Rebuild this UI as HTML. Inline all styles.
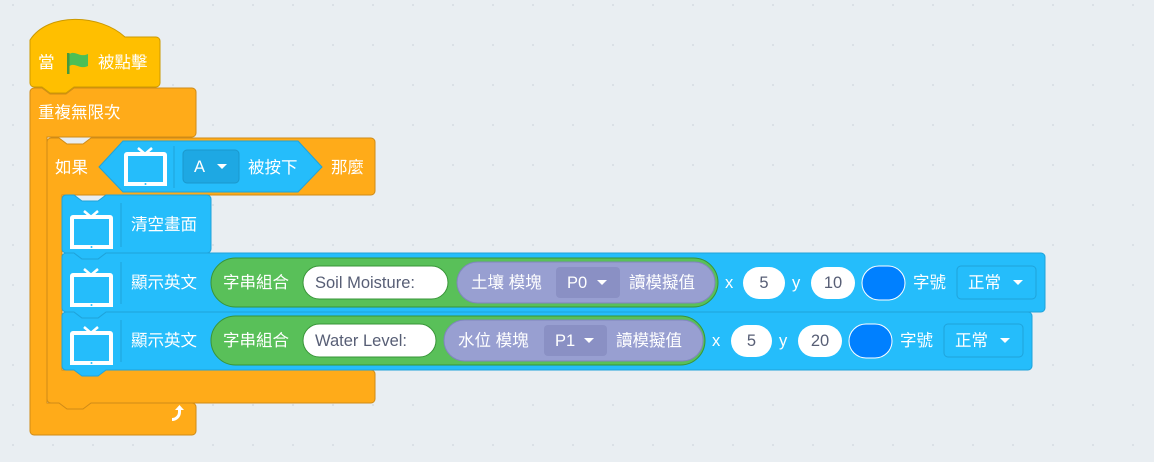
<!DOCTYPE html>
<html><head><meta charset="utf-8">
<style>
html,body{margin:0;padding:0;}
body{width:1154px;height:462px;overflow:hidden;background:#e9eef2;}
svg{display:block;}
text{font-family:"Liberation Sans","Noto Sans CJK TC",sans-serif;font-size:16.5px;fill:#fff;dominant-baseline:central;}
.d{fill:#575e75;}
</style></head><body>
<svg width="1154" height="462" viewBox="0 0 1154 462" xmlns="http://www.w3.org/2000/svg">
<defs>
<pattern id="dots" width="40" height="40" patternUnits="userSpaceOnUse" x="12" y="4">
<circle cx="1" cy="1" r="1" fill="#d6dce2"/></pattern>
<g id="tv">
<rect x="2" y="6" width="39" height="30" rx="1" fill="none" stroke="#fff" stroke-width="4"/>
<rect x="0" y="34" width="43" height="4" fill="#fff"/>
<path d="M14 0 L21 6 L28 0" fill="none" stroke="#fff" stroke-width="2.5"/>
<circle cx="21.5" cy="36" r="1" fill="#25bdfb"/>
</g>
</defs>
<rect width="1154" height="462" fill="url(#dots)"/>

<!-- forever block -->
<path d="M30 92 a4 4 0 0 1 4 -4 h8 l8 6 h16 l8 -6 h118 a4 4 0 0 1 4 4 v41 a4 4 0 0 1 -4 4 h-145 v266 h145 a4 4 0 0 1 4 4 v24 a4 4 0 0 1 -4 4 h-158 a4 4 0 0 1 -4 -4 z" fill="#ffab19" stroke="#cf8b17" stroke-width="1"/>
<text x="38" y="113">重複無限次</text>
<path d="M172 418 a6 6 0 0 0 6 -6 v-2 l-3 0 l4.5 -5 l4.5 5 l-3 0 v2 a9 9 0 0 1 -9 9 z" fill="#fff"/>
<!-- if block -->
<path d="M47 142 a4 4 0 0 1 4 -4 h8 l8 6 h16 l8 -6 h280 a4 4 0 0 1 4 4 v49 a4 4 0 0 1 -4 4 h-309 v175 h309 a4 4 0 0 1 4 4 v25 a4 4 0 0 1 -4 4 h-280 l-8 6 h-16 l-8 -6 h-8 a4 4 0 0 1 -4 -4 z" fill="#ffab19" stroke="#cf8b17" stroke-width="1"/>
<text x="55" y="168">如果</text>
<text x="331" y="168">那麼</text>
<path d="M99 167 L123 141 H298 L322 167 L298 192 H123 Z" fill="#25bdfb" stroke="#1fa3da" stroke-width="1"/>
<use href="#tv" x="124" y="148"/>
<line x1="174" y1="146" x2="174" y2="188" stroke="#1fa3da" stroke-width="1"/>
<rect x="183" y="150" width="56" height="33" rx="4" fill="#1ea8e3" stroke="#1b98cc"/>
<text x="194" y="167">A</text>
<path d="M217 164 h10 l-5 5 z" fill="#fff"/>
<text x="248" y="168">被按下</text>

<!-- hat block -->
<path d="M30 40 C48 12 100 14 125 37 h31 a4 4 0 0 1 4 4 v42 a4 4 0 0 1 -4 4 h-82 l-8 6 h-16 l-8 -6 h-8 a4 4 0 0 1 -4 -4 z" fill="#ffbf00" stroke="#cc9900" stroke-width="1"/>
<text x="38" y="63">當</text>
<rect x="67" y="53" width="2.5" height="21" fill="#45993d"/>
<path d="M69.5 54 C75 50 80 58 88 54 V66 C80 70 75 62 69.5 66 Z" fill="#4cbf56"/>
<text x="98" y="63">被點擊</text>

<!-- display block 2 -->
<path d="M62 316 a4 4 0 0 1 4 -4 h8 l8 6 h16 l8 -6 h922 a4 4 0 0 1 4 4 v50 a4 4 0 0 1 -4 4 h-922 l-8 6 h-16 l-8 -6 h-8 a4 4 0 0 1 -4 -4 z" fill="#25bdfb" stroke="#1fa3da" stroke-width="1"/>
<!-- display block 1 -->
<path d="M62 257 a4 4 0 0 1 4 -4 h8 l8 6 h16 l8 -6 h935 a4 4 0 0 1 4 4 v51 a4 4 0 0 1 -4 4 h-935 l-8 6 h-16 l-8 -6 h-8 a4 4 0 0 1 -4 -4 z" fill="#25bdfb" stroke="#1fa3da" stroke-width="1"/>
<!-- clear block -->
<path d="M62 199 a4 4 0 0 1 4 -4 h8 l8 6 h16 l8 -6 h101 a4 4 0 0 1 4 4 v50 a4 4 0 0 1 -4 4 h-101 l-8 6 h-16 l-8 -6 h-8 a4 4 0 0 1 -4 -4 z" fill="#25bdfb" stroke="#1fa3da" stroke-width="1"/>
<use href="#tv" x="70" y="211"/>
<line x1="121" y1="203" x2="121" y2="247" stroke="#1fa3da"/>
<text x="131" y="225">清空畫面</text>

<!-- row1 -->
<use href="#tv" x="70" y="269"/>
<line x1="121" y1="262" x2="121" y2="304" stroke="#1fa3da"/>
<text x="131" y="283">顯示英文</text>
<rect x="211" y="258" width="507" height="49" rx="24.5" fill="#59c059" stroke="#389438"/>
<text x="223" y="283">字串組合</text>
<rect x="303" y="266" width="145" height="33" rx="16.5" fill="#fff" stroke="#389438"/>
<text x="315" y="283" class="d">Soil Moisture:</text>
<rect x="457" y="262" width="258" height="41" rx="20.5" fill="#989fd1" stroke="#7f86bd"/>
<text x="471" y="283">土壤 模塊</text>
<rect x="556" y="267" width="64" height="31" rx="4" fill="#8a90c4"/>
<text x="567" y="283">P0</text>
<path d="M597 280 h10 l-5 5 z" fill="#fff"/>
<text x="629" y="283">讀模擬值</text>
<text x="725" y="283">x</text>
<rect x="743" y="267" width="42" height="32" rx="16" fill="#fff"/>
<text x="764" y="283" class="d" text-anchor="middle">5</text>
<text x="792" y="283">y</text>
<rect x="811" y="267" width="44" height="32" rx="16" fill="#fff"/>
<text x="833" y="283" class="d" text-anchor="middle">10</text>
<rect x="862" y="266" width="43" height="34" rx="17" fill="#0080ff" stroke="#fff"/>
<text x="913" y="283">字號</text>
<rect x="957" y="266" width="79" height="33" rx="4" fill="#25bdfb" stroke="#1fa3da"/>
<text x="968" y="283">正常</text>
<path d="M1013 280 h10 l-5 5 z" fill="#fff"/>

<!-- row2 -->
<use href="#tv" x="70" y="327"/>
<line x1="121" y1="320" x2="121" y2="362" stroke="#1fa3da"/>
<text x="131" y="341">顯示英文</text>
<rect x="211" y="316" width="494" height="49" rx="24.5" fill="#59c059" stroke="#389438"/>
<text x="223" y="341">字串組合</text>
<rect x="303" y="324" width="133" height="33" rx="16.5" fill="#fff" stroke="#389438"/>
<text x="315" y="341" class="d">Water Level:</text>
<rect x="444" y="320" width="259" height="41" rx="20.5" fill="#989fd1" stroke="#7f86bd"/>
<text x="458" y="341">水位 模塊</text>
<rect x="544" y="325" width="63" height="31" rx="4" fill="#8a90c4"/>
<text x="555" y="341">P1</text>
<path d="M584 338 h10 l-5 5 z" fill="#fff"/>
<text x="616" y="341">讀模擬值</text>
<text x="712" y="341">x</text>
<rect x="731" y="325" width="41" height="32" rx="16" fill="#fff"/>
<text x="751.5" y="341" class="d" text-anchor="middle">5</text>
<text x="779" y="341">y</text>
<rect x="798" y="325" width="44" height="32" rx="16" fill="#fff"/>
<text x="820" y="341" class="d" text-anchor="middle">20</text>
<rect x="849" y="324" width="43" height="34" rx="17" fill="#0080ff" stroke="#fff"/>
<text x="900" y="341">字號</text>
<rect x="944" y="324" width="79" height="33" rx="4" fill="#25bdfb" stroke="#1fa3da"/>
<text x="955" y="341">正常</text>
<path d="M1000 338 h10 l-5 5 z" fill="#fff"/>
</svg>
</body></html>
